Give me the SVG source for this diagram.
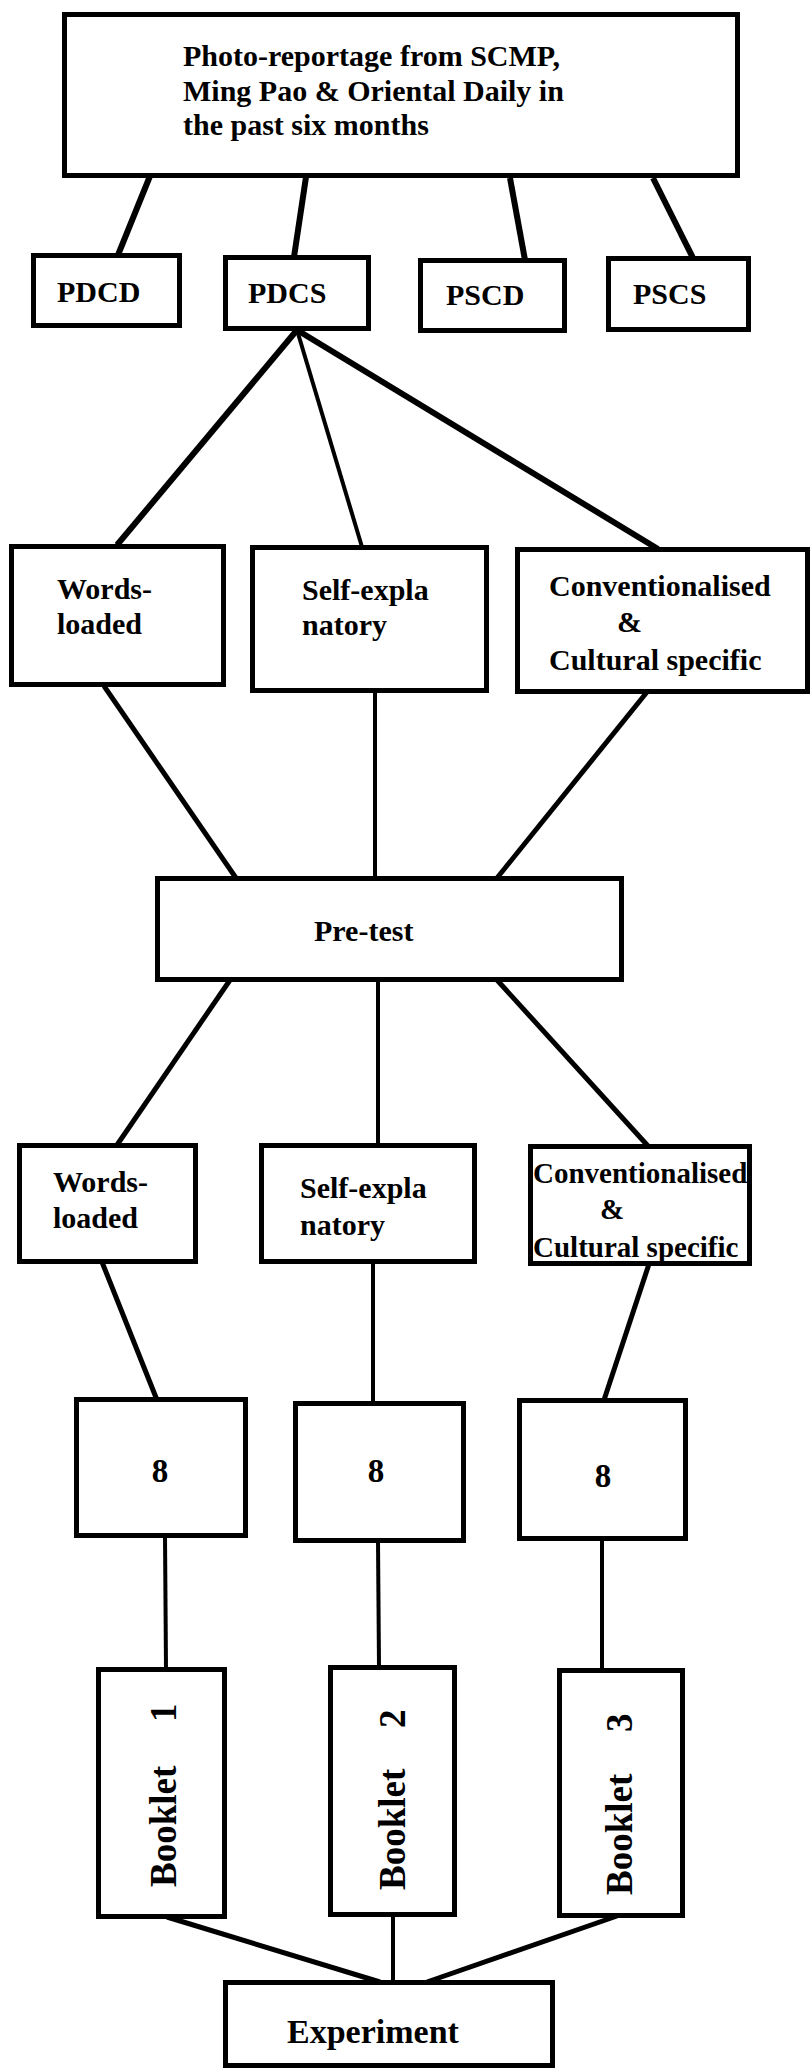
<svg xmlns="http://www.w3.org/2000/svg" width="812" height="2068" viewBox="0 0 812 2068">
<style>
.box{fill:#fff;stroke:#000;stroke-width:5}
.t{font-family:"Liberation Serif","Times New Roman",serif;font-weight:bold;font-size:30px;fill:#000}
.c{stroke:#000;stroke-linecap:butt;fill:none}
.w6{stroke-width:6}
.w5{stroke-width:5}
.w4{stroke-width:4}
</style>
<rect width="812" height="2068" fill="#fff"/>
<g id="connectors">
<line class="c w6" x1="150" y1="176" x2="118" y2="255"/>
<line class="c w6" x1="306" y1="177" x2="294" y2="257"/>
<line class="c w6" x1="510" y1="178" x2="525" y2="260"/>
<line class="c w6" x1="653" y1="178" x2="693" y2="258"/>
<line class="c w6" x1="297" y1="330" x2="117" y2="545"/>
<line class="c w4" x1="297" y1="330" x2="362" y2="547"/>
<line class="c w6" x1="297" y1="330" x2="658" y2="549"/>
<line class="c w5" x1="104" y1="686" x2="236" y2="878"/>
<line class="c w4" x1="375" y1="691" x2="375" y2="878"/>
<line class="c w5" x1="647" y1="692" x2="497" y2="878"/>
<line class="c w5" x1="230" y1="980" x2="117" y2="1145"/>
<line class="c w4" x1="378" y1="980" x2="378" y2="1145"/>
<line class="c w5" x1="497" y1="980" x2="648" y2="1146"/>
<line class="c w5" x1="102" y1="1262" x2="157" y2="1400"/>
<line class="c w4" x1="373" y1="1262" x2="373" y2="1403"/>
<line class="c w5" x1="649" y1="1264" x2="604" y2="1400"/>
<line class="c w4" x1="165" y1="1536" x2="166" y2="1669"/>
<line class="c w4" x1="378" y1="1541" x2="379" y2="1667"/>
<line class="c w4" x1="602" y1="1539" x2="602" y2="1670"/>
<line class="c w5" x1="167" y1="1917" x2="380" y2="1982"/>
<line class="c w4" x1="393" y1="1915" x2="393" y2="1982"/>
<line class="c w5" x1="617" y1="1916" x2="427" y2="1982"/>
</g>
<g id="source">
<rect class="box" x="64.5" y="14.5" width="673" height="161"/>
<text class="t" x="183" y="66">Photo-reportage from SCMP,</text>
<text class="t" x="183" y="101">Ming Pao &amp; Oriental Daily in</text>
<text class="t" x="183" y="135">the past six months</text>
</g>
<g id="pdcd">
<rect class="box" x="33.5" y="255.5" width="146" height="70"/>
<text class="t" x="57" y="302">PDCD</text>
</g>
<g id="pdcs">
<rect class="box" x="225.5" y="257.5" width="143" height="71"/>
<text class="t" x="248" y="303">PDCS</text>
</g>
<g id="pscd">
<rect class="box" x="420.5" y="260.5" width="144" height="70"/>
<text class="t" x="446" y="305">PSCD</text>
</g>
<g id="pscs">
<rect class="box" x="608.5" y="258.5" width="140" height="71"/>
<text class="t" x="633" y="304">PSCS</text>
</g>
<g id="words1">
<rect class="box" x="11.5" y="546.5" width="212" height="138"/>
<text class="t" x="57" y="599">Words-</text>
<text class="t" x="57" y="634">loaded</text>
</g>
<g id="self1">
<rect class="box" x="252.5" y="547.5" width="234" height="143"/>
<text class="t" x="302" y="600">Self-expla</text>
<text class="t" x="302" y="635">natory</text>
</g>
<g id="conv1">
<rect class="box" x="517.5" y="549.5" width="290" height="142"/>
<text class="t" x="549" y="596">Conventionalised</text>
<text class="t" x="617" y="632">&amp;</text>
<text class="t" x="549" y="670">Cultural specific</text>
</g>
<g id="pretest">
<rect class="box" x="157.5" y="878.5" width="464" height="101"/>
<text class="t" x="314" y="941">Pre-test</text>
</g>
<g id="words2">
<rect class="box" x="19.5" y="1145.5" width="176" height="116"/>
<text class="t" x="53" y="1192">Words-</text>
<text class="t" x="53" y="1228">loaded</text>
</g>
<g id="self2">
<rect class="box" x="261.5" y="1145.5" width="213" height="116"/>
<text class="t" x="300" y="1198">Self-expla</text>
<text class="t" x="300" y="1235">natory</text>
</g>
<g id="conv2">
<rect class="box" x="530.5" y="1146.5" width="219" height="117"/>
<text class="t" x="533" y="1183" style="font-size:29px">Conventionalised</text>
<text class="t" x="600" y="1219" style="font-size:29px">&amp;</text>
<text class="t" x="533" y="1257" style="font-size:29px">Cultural specific</text>
</g>
<g id="n8a">
<rect class="box" x="76.5" y="1399.5" width="169" height="136"/>
<text class="t" x="160" y="1482" text-anchor="middle" style="font-size:33px">8</text>
</g>
<g id="n8b">
<rect class="box" x="295.5" y="1403.5" width="168" height="137"/>
<text class="t" x="376" y="1482" text-anchor="middle" style="font-size:33px">8</text>
</g>
<g id="n8c">
<rect class="box" x="519.5" y="1400.5" width="166" height="138"/>
<text class="t" x="603" y="1487" text-anchor="middle" style="font-size:33px">8</text>
</g>
<g id="booklet1">
<rect class="box" x="98.5" y="1669.5" width="126" height="247"/>
<text class="t" transform="translate(176,1887) rotate(-90)" style="font-size:37px">Booklet<tspan x="165">1</tspan></text>
</g>
<g id="booklet2">
<rect class="box" x="330.5" y="1667.5" width="124" height="247"/>
<text class="t" transform="translate(405,1890) rotate(-90)" style="font-size:37px">Booklet<tspan x="162">2</tspan></text>
</g>
<g id="booklet3">
<rect class="box" x="559.5" y="1670.5" width="123" height="245"/>
<text class="t" transform="translate(632,1895) rotate(-90)" style="font-size:37px">Booklet<tspan x="163">3</tspan></text>
</g>
<g id="experiment">
<rect class="box" x="225.5" y="1982.5" width="327" height="83"/>
<text class="t" x="287" y="2043" style="font-size:34px">Experiment</text>
</g>
</svg>
